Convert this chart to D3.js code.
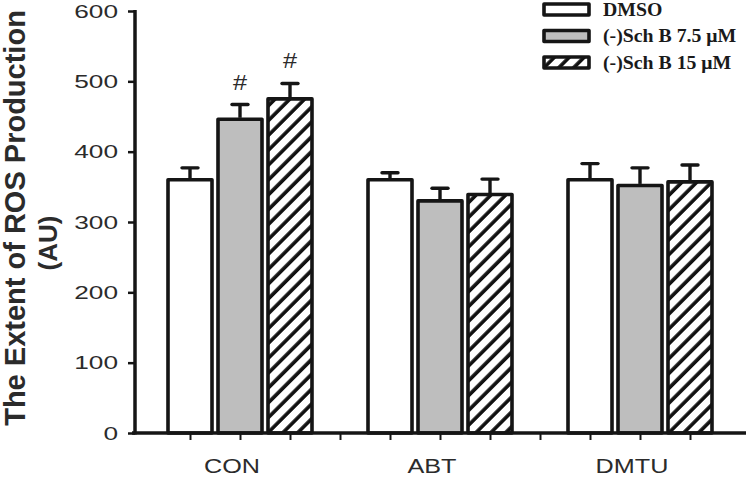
<!DOCTYPE html>
<html>
<head>
<meta charset="utf-8">
<script src="https://cdn.jsdelivr.net/npm/d3@7"></script>
<style>
  html, body { margin: 0; padding: 0; background: #fff; }
  svg { display: block; }
</style>
</head>
<body>
<svg id="chart" width="746" height="477"></svg>
<script>
// ---- data ----
const categories = ["CON", "ABT", "DMTU"];
const seriesNames = ["DMSO", "(-)Sch B 7.5 \u03BCM", "(-)Sch B 15 \u03BCM"];
const meanDMSO = [360, 360, 360];
const errDMSO = [17, 10, 23];
const meanSch75 = [446, 330, 352];
const errSch75 = [21, 18, 25];
const meanSch15 = [475, 339, 357];
const errSch15 = [22, 22, 24];
const sigDMSO = ["", "", ""];
const sigSch75 = ["#", "", ""];
const sigSch15 = ["#", "", ""];
const yTicks = [0, 100, 200, 300, 400, 500, 600];

const means = [meanDMSO, meanSch75, meanSch15];
const errs = [errDMSO, errSch75, errSch15];
const sigs = [sigDMSO, sigSch75, sigSch15];
const fills = ["#ffffff", "#bebebe", "url(#hatch)"];

const svg = d3.select("#chart");
const defs = svg.append("defs");
const pat = defs.append("pattern")
  .attr("id", "hatch").attr("patternUnits", "userSpaceOnUse")
  .attr("width", 10.5).attr("height", 10.5)
  .attr("patternTransform", "rotate(45)");
pat.append("rect").attr("width", 10.5).attr("height", 10.5).attr("fill", "#fff");
pat.append("line").attr("x1", 2).attr("y1", -1).attr("x2", 2).attr("y2", 12)
  .attr("stroke", "#111").attr("stroke-width", 3.6);

const sans = "'Liberation Sans', Arial, Helvetica, sans-serif";
const serif = "'Liberation Serif', 'Times New Roman', serif";
const ink = "#151515";
const txt = "#2b2b2b";

// stretched text helper (reference glyphs are wider than tall)
function wideText(parent, tx, ty, sx, str, opts) {
  const t = parent.append("text")
    .attr("transform", `translate(${tx},${ty}) scale(${sx},1)`)
    .attr("font-family", opts.family || sans)
    .attr("font-size", opts.size)
    .attr("font-weight", opts.weight || "normal")
    .attr("text-anchor", opts.anchor || "start")
    .attr("fill", opts.fill || txt)
    .text(str);
  return t;
}

// scales
const y = d3.scaleLinear().domain([0, 600]).range([433, 11]);
const x = d3.scaleLinear().domain([0, 12]).range([140, 740]); // slot scale
const slotOf = (g, s) => 4 * g + 1 + s;
const barW = x(0.88) - x(0);
const axisX = x(-0.1);

// y axis ticks (labels drawn separately)
const yAxis = svg.append("g").attr("transform", `translate(${axisX},0)`)
  .call(d3.axisLeft(y).tickValues(yTicks).tickSize(7).tickFormat(""));
yAxis.select(".domain").remove();
yAxis.selectAll(".tick line").attr("stroke", ink).attr("stroke-width", 2.5);
yTicks.forEach(v => {
  wideText(svg, axisX - 17, y(v) + 6.8, 1.38, String(v), { size: 19, anchor: "end" });
});
svg.append("line").attr("x1", axisX).attr("x2", axisX)
  .attr("y1", y(600) - 1).attr("y2", y(0) + 1.5)
  .attr("stroke", ink).attr("stroke-width", 3.5);

// x axis ticks
const xAxis = svg.append("g").attr("transform", `translate(0,${y(0)})`)
  .call(d3.axisBottom(x).tickValues(d3.range(1, 12)).tickSize(7).tickFormat(""));
xAxis.select(".domain").remove();
xAxis.selectAll(".tick line").attr("stroke", ink).attr("stroke-width", 2);

// bars
categories.forEach((cat, g) => {
  means.forEach((m, s) => {
    const cx = x(slotOf(g, s));
    const top = y(m[g]);
    svg.append("rect")
      .attr("x", cx - barW / 2).attr("y", top)
      .attr("width", barW).attr("height", y(0) - top)
      .attr("fill", fills[s]).attr("stroke", ink).attr("stroke-width", 3.6)
      .attr("stroke-linejoin", "round");
    const et = y(m[g] + errs[s][g]);
    svg.append("line").attr("x1", cx).attr("x2", cx).attr("y1", top - 1.5).attr("y2", et)
      .attr("stroke", ink).attr("stroke-width", 3.4);
    svg.append("line").attr("x1", cx - 8).attr("x2", cx + 8).attr("y1", et).attr("y2", et)
      .attr("stroke", ink).attr("stroke-width", 3.4).attr("stroke-linecap", "round");
    if (sigs[s][g]) {
      wideText(svg, cx, et - 15, 1.15, sigs[s][g], { size: 22, anchor: "middle" });
    }
  });
  wideText(svg, x(slotOf(g, 1)) - 8, 473, 1.2, cat, { size: 21, anchor: "middle" });
});

// x axis line
svg.append("line").attr("x1", x(-0.16)).attr("x2", 746)
  .attr("y1", y(0)).attr("y2", y(0)).attr("stroke", ink).attr("stroke-width", 3.6);

// y title
svg.append("text").attr("transform", "translate(25,218) rotate(-90)")
  .attr("text-anchor", "middle").attr("font-family", sans).attr("font-weight", "bold")
  .attr("font-size", 29).attr("fill", txt).text("The Extent of ROS Production");
svg.append("text").attr("transform", "translate(57,243) rotate(-90)")
  .attr("text-anchor", "middle").attr("font-family", sans).attr("font-weight", "bold")
  .attr("font-size", 26).attr("fill", txt).text("(AU)");

// legend
const leg = svg.append("g");
seriesNames.forEach((name, i) => {
  const cy = 9.5 + i * 26.5;
  leg.append("rect").attr("x", 544).attr("y", cy - 5.5).attr("width", 45).attr("height", 11)
    .attr("fill", fills[i]).attr("stroke", ink).attr("stroke-width", 3.6)
    .attr("stroke-linejoin", "round");
  wideText(leg, 603, cy + 6, 1.1, name,
    { size: 18, family: serif, weight: "bold", fill: "#1a1a1a" });
});
</script>
</body>
</html>
